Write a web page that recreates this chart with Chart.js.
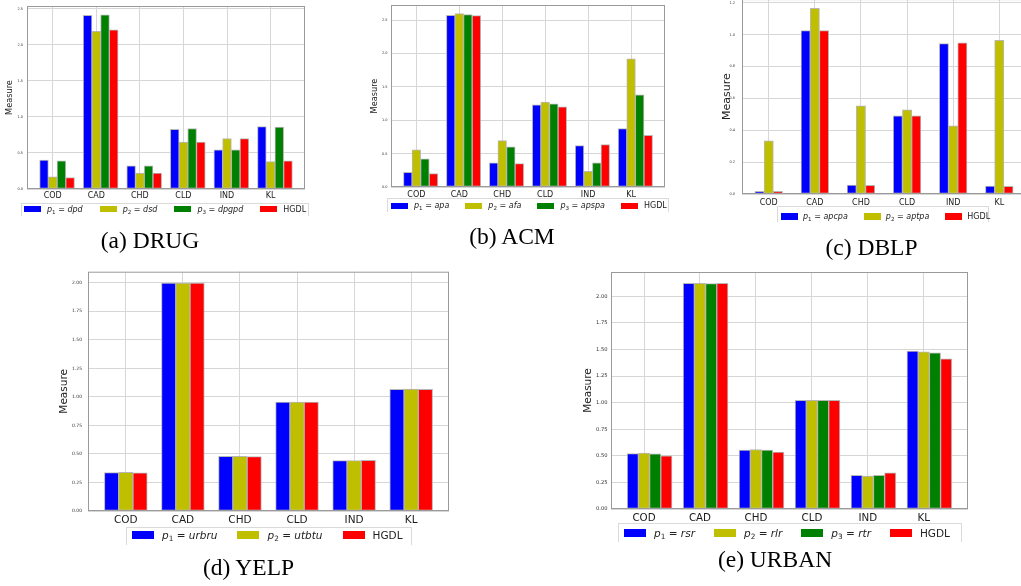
<!DOCTYPE html>
<html>
<head>
<meta charset="utf-8">
<title>Measure by dataset</title>
<script src="https://cdn.jsdelivr.net/npm/chart.js@4.4.1/dist/chart.umd.min.js"></script>
<style>
  html, body { margin: 0; padding: 0; background: #fff; }
  body { width: 1021px; height: 586px; position: relative; overflow: hidden; font-family: 'DejaVu Sans', sans-serif; }
  .panel { position: absolute; }
  .panel canvas { display: block; }
  .legend { position: absolute; box-sizing: border-box; border: 1px solid #dadada; border-bottom: none; background: #fff; }
  .legend .row { position: absolute; left: 0; display: flex; align-items: center; white-space: nowrap; color: #222; }
  .legend .sw { display: inline-block; flex: none; }
  .legend sub { font-size: 70%; vertical-align: -0.3em; line-height: 0; }
  .caption { position: absolute; width: 240px; text-align: center; font-family: 'Liberation Serif', serif; font-size: 23.5px; line-height: 1; color: #000; white-space: nowrap; }
</style>
</head>
<body>
<script>
// ---- data ----
const categories = ['COD', 'CAD', 'CHD', 'CLD', 'IND', 'KL'];

// (a) DRUG
const drugNames = ['p1 = dpd', 'p2 = dsd', 'p3 = dpgpd', 'HGDL'];
const drugP1   = [0.40, 2.41, 0.32, 0.83, 0.545, 0.865];
const drugP2   = [0.17, 2.19, 0.22, 0.65, 0.70, 0.38];
const drugP3   = [0.39, 2.42, 0.32, 0.84, 0.545, 0.86];
const drugHGDL = [0.16, 2.21, 0.22, 0.65, 0.70, 0.39];
const drugTicks = ['0.0', '0.5', '1.0', '1.5', '2.0', '2.5'];

// (b) ACM
const acmNames = ['p1 = apa', 'p2 = afa', 'p3 = apspa', 'HGDL'];
const acmP1   = [0.22, 2.57, 0.36, 1.23, 0.62, 0.875];
const acmP2   = [0.555, 2.595, 0.695, 1.27, 0.235, 1.92];
const acmP3   = [0.42, 2.58, 0.60, 1.245, 0.36, 1.38];
const acmHGDL = [0.20, 2.565, 0.35, 1.20, 0.635, 0.775];
const acmTicks = ['0.0', '0.5', '1.0', '1.5', '2.0', '2.5'];

// (c) DBLP
const dblpNames = ['p1 = apcpa', 'p2 = aptpa', 'HGDL'];
const dblpP1   = [0.017, 1.025, 0.056, 0.49, 0.944, 0.05];
const dblpP2   = [0.334, 1.165, 0.554, 0.529, 0.428, 0.965];
const dblpHGDL = [0.017, 1.025, 0.054, 0.49, 0.949, 0.048];
const dblpTicks = ['0.0', '0.2', '0.4', '0.6', '0.8', '1.0', '1.2'];

// (d) YELP
const yelpNames = ['p1 = urbru', 'p2 = utbtu', 'HGDL'];
const yelpP1   = [0.336, 1.997, 0.479, 0.955, 0.441, 1.066];
const yelpP2   = [0.339, 1.997, 0.479, 0.955, 0.441, 1.069];
const yelpHGDL = [0.334, 1.997, 0.476, 0.955, 0.444, 1.066];
const yelpTicks = ['0.00', '0.25', '0.50', '0.75', '1.00', '1.25', '1.50', '1.75', '2.00'];

// (e) URBAN
const urbanNames = ['p1 = rsr', 'p2 = rlr', 'p3 = rtr', 'HGDL'];
const urbanP1   = [0.522, 2.122, 0.553, 1.022, 0.316, 1.484];
const urbanP2   = [0.525, 2.122, 0.559, 1.022, 0.309, 1.478];
const urbanP3   = [0.519, 2.119, 0.553, 1.022, 0.316, 1.469];
const urbanHGDL = [0.500, 2.122, 0.534, 1.022, 0.341, 1.412];
const urbanTicks = ['0.00', '0.25', '0.50', '0.75', '1.00', '1.25', '1.50', '1.75', '2.00'];

// ---- styling ----
const BLUE = '#0000ff', OLIVE = '#bfbf00', GREEN = '#008000', RED = '#ff0000';
const gridColor = '#d6d6d6';
Chart.defaults.font.family = "'DejaVu Sans', sans-serif";

// axes box drawn on all four sides, above the bars
const framePlugin = {
  id: 'frame',
  afterDatasetsDraw(chart) {
    const { ctx, chartArea: a } = chart;
    ctx.save();
    ctx.strokeStyle = '#9a9a9a';
    ctx.lineWidth = 1;
    ctx.strokeRect(a.left + 0.5, a.top + 0.5, a.right - a.left - 1, a.bottom - a.top - 1);
    ctx.restore();
  }
};

function labelHtml(name) {
  const m = /^p(\d) = (\w+)$/.exec(name);
  if (!m) return name;
  return '<i>p</i><sub>' + m[1] + '</sub> = <i>' + m[2] + '</i>';
}

function buildLegend(chart, lg) {
  const frame = document.createElement('div');
  frame.className = 'legend';
  frame.style.left = lg.left + 'px';
  frame.style.top = lg.top + 'px';
  frame.style.width = lg.width + 'px';
  frame.style.height = lg.height + 'px';
  const row = document.createElement('div');
  row.className = 'row';
  const h = Math.round(lg.font * 1.3);
  row.style.top = (lg.rowCenter - 1 - h / 2) + 'px';
  row.style.height = h + 'px';
  row.style.paddingLeft = lg.padLeft + 'px';
  row.style.fontSize = lg.font + 'px';
  chart.data.datasets.forEach((ds, k) => {
    const sw = document.createElement('span');
    sw.className = 'sw';
    sw.style.width = lg.patchW + 'px';
    sw.style.height = lg.patchH + 'px';
    sw.style.background = ds.backgroundColor;
    if (k > 0) sw.style.marginLeft = lg.colGap + 'px';
    const tx = document.createElement('span');
    tx.style.marginLeft = lg.textGap + 'px';
    tx.innerHTML = labelHtml(ds.label);
    row.appendChild(sw);
    row.appendChild(tx);
  });
  frame.appendChild(row);
  document.body.appendChild(frame);
}

function buildCaption(c) {
  const d = document.createElement('div');
  d.className = 'caption';
  d.textContent = c.text;
  d.style.left = (c.cx - 120) + 'px';
  d.style.top = (c.baseline - 19.7) + 'px';
  document.body.appendChild(d);
}

function buildPanel(p) {
  const n = p.series.length;
  const w = p.barWidth;
  const lo = -w / 2;
  const hi = (categories.length - 1) + (n - 1) * w + w / 2;
  const m = 0.05 * (hi - lo);
  const yMax = 1.05 * Math.max(...p.series.flatMap(s => s.values));
  const tickVals = p.yTicks.map(Number);

  const { L, T, R, B } = p.plot;
  const padT = 8, padR = 6;
  const width = (R - L) + p.padL + padR;
  const height = (B - T) + padT + p.padB;

  const box = document.createElement('div');
  box.className = 'panel';
  box.style.left = (L - p.padL) + 'px';
  box.style.top = (T - padT) + 'px';
  const cv = document.createElement('canvas');
  cv.width = width; cv.height = height;
  cv.style.width = width + 'px'; cv.style.height = height + 'px';
  box.appendChild(cv);
  document.body.appendChild(box);

  const chart = new Chart(cv, {
    type: 'bar',
    data: {
      datasets: p.series.map((s, k) => ({
        label: s.name,
        data: s.values.map((v, i) => ({ x: i + k * w, y: v })),
        backgroundColor: s.color,
        borderColor: 'rgba(170,170,170,0.85)',
        borderWidth: 1,
        borderSkipped: false,
        grouped: false,
        barPercentage: 1,
        categoryPercentage: 1
      }))
    },
    options: {
      responsive: false,
      animation: false,
      devicePixelRatio: 1,
      layout: { padding: { left: 0, top: padT, right: padR, bottom: 0 } },
      plugins: { legend: { display: false }, tooltip: { enabled: false } },
      scales: {
        x: {
          type: 'linear',
          min: lo - m,
          max: hi + m,
          offset: false,
          grid: { offset: false, color: gridColor, lineWidth: 1, drawTicks: false },
          border: { display: false },
          afterBuildTicks: sc => { sc.ticks = categories.map((c, i) => ({ value: i + 1 * w })); },
          afterFit: sc => { sc.height = p.padB; },
          ticks: {
            autoSkip: false, maxRotation: 0, padding: p.xPad, color: '#1a1a1a',
            font: { size: p.xFont },
            callback: (v, i) => categories[i]
          }
        },
        y: {
          min: 0,
          max: yMax,
          grid: { color: gridColor, lineWidth: 1, drawTicks: false },
          border: { display: false },
          afterBuildTicks: sc => { sc.ticks = tickVals.map(v => ({ value: v })); },
          afterFit: sc => { sc.width = p.padL; },
          ticks: {
            padding: p.yPad, color: '#333',
            font: { size: p.yFont },
            callback: (v, i) => p.yTicks[i]
          },
          title: {
            display: true, text: 'Measure', color: '#222',
            font: { size: p.titleFont },
            padding: { top: p.titlePad, bottom: 0 }
          }
        }
      }
    },
    plugins: [framePlugin]
  });

  buildLegend(chart, p.legend);
  buildCaption(p.caption);
}

// ---- panels ----
buildPanel({
  series: [
    { name: drugNames[0], values: drugP1, color: BLUE },
    { name: drugNames[1], values: drugP2, color: OLIVE },
    { name: drugNames[2], values: drugP3, color: GREEN },
    { name: drugNames[3], values: drugHGDL, color: RED }
  ],
  barWidth: 0.2, yTicks: drugTicks,
  plot: { L: 27, T: 6, R: 305, B: 189 },
  padL: 27, padB: 22, xFont: 8, xPad: 2.5, yFont: 3.5, yPad: 4, titleFont: 8.2, titlePad: 5,
  legend: { left: 21, top: 203, width: 288, height: 13, rowCenter: 6, font: 8, patchW: 17, patchH: 6, padLeft: 2, textGap: 6, colGap: 17 },
  caption: { text: '(a) DRUG', cx: 150, baseline: 248.5 }
});

buildPanel({
  series: [
    { name: acmNames[0], values: acmP1, color: BLUE },
    { name: acmNames[1], values: acmP2, color: OLIVE },
    { name: acmNames[2], values: acmP3, color: GREEN },
    { name: acmNames[3], values: acmHGDL, color: RED }
  ],
  barWidth: 0.2, yTicks: acmTicks,
  plot: { L: 391, T: 5, R: 665, B: 187 },
  padL: 24, padB: 22, xFont: 8, xPad: 3.5, yFont: 3.5, yPad: 3.5, titleFont: 8.2, titlePad: 3,
  legend: { left: 387, top: 198, width: 282, height: 14, rowCenter: 7.5, font: 8, patchW: 17, patchH: 6, padLeft: 3, textGap: 6, colGap: 16 },
  caption: { text: '(b) ACM', cx: 512, baseline: 245 }
});

buildPanel({
  series: [
    { name: dblpNames[0], values: dblpP1, color: BLUE },
    { name: dblpNames[1], values: dblpP2, color: OLIVE },
    { name: dblpNames[2], values: dblpHGDL, color: RED }
  ],
  barWidth: 0.2, yTicks: dblpTicks,
  plot: { L: 742, T: -2, R: 1026, B: 194 },
  padL: 24, padB: 22, xFont: 8, xPad: 4.5, yFont: 3.5, yPad: 7, titleFont: 11, titlePad: 2.8,
  legend: { left: 777, top: 206, width: 212, height: 16, rowCenter: 10, font: 8, patchW: 17, patchH: 7, padLeft: 3, textGap: 5, colGap: 16 },
  caption: { text: '(c) DBLP', cx: 871.5, baseline: 255.5 }
});

buildPanel({
  series: [
    { name: yelpNames[0], values: yelpP1, color: BLUE },
    { name: yelpNames[1], values: yelpP2, color: OLIVE },
    { name: yelpNames[2], values: yelpHGDL, color: RED }
  ],
  barWidth: 0.25, yTicks: yelpTicks,
  plot: { L: 88, T: 271, R: 449, B: 511 },
  padL: 36, padB: 26, xFont: 10.5, xPad: 2.7, yFont: 4.5, yPad: 6, titleFont: 10.5, titlePad: 5.7,
  legend: { left: 126, top: 527, width: 286, height: 18, rowCenter: 7.5, font: 10.5, patchW: 22, patchH: 8, padLeft: 5, textGap: 8, colGap: 20 },
  caption: { text: '(d) YELP', cx: 248.5, baseline: 576 }
});

buildPanel({
  series: [
    { name: urbanNames[0], values: urbanP1, color: BLUE },
    { name: urbanNames[1], values: urbanP2, color: OLIVE },
    { name: urbanNames[2], values: urbanP3, color: GREEN },
    { name: urbanNames[3], values: urbanHGDL, color: RED }
  ],
  barWidth: 0.2, yTicks: urbanTicks,
  plot: { L: 611, T: 272, R: 968, B: 509 },
  padL: 30, padB: 26, xFont: 10.3, xPad: 2.8, yFont: 5.2, yPad: 3.5, titleFont: 10.5, titlePad: 0.7,
  legend: { left: 618, top: 523, width: 344, height: 19, rowCenter: 10, font: 10.5, patchW: 22, patchH: 8, padLeft: 5, textGap: 8, colGap: 19 },
  caption: { text: '(e) URBAN', cx: 775, baseline: 568 }
});
</script>
</body>
</html>
